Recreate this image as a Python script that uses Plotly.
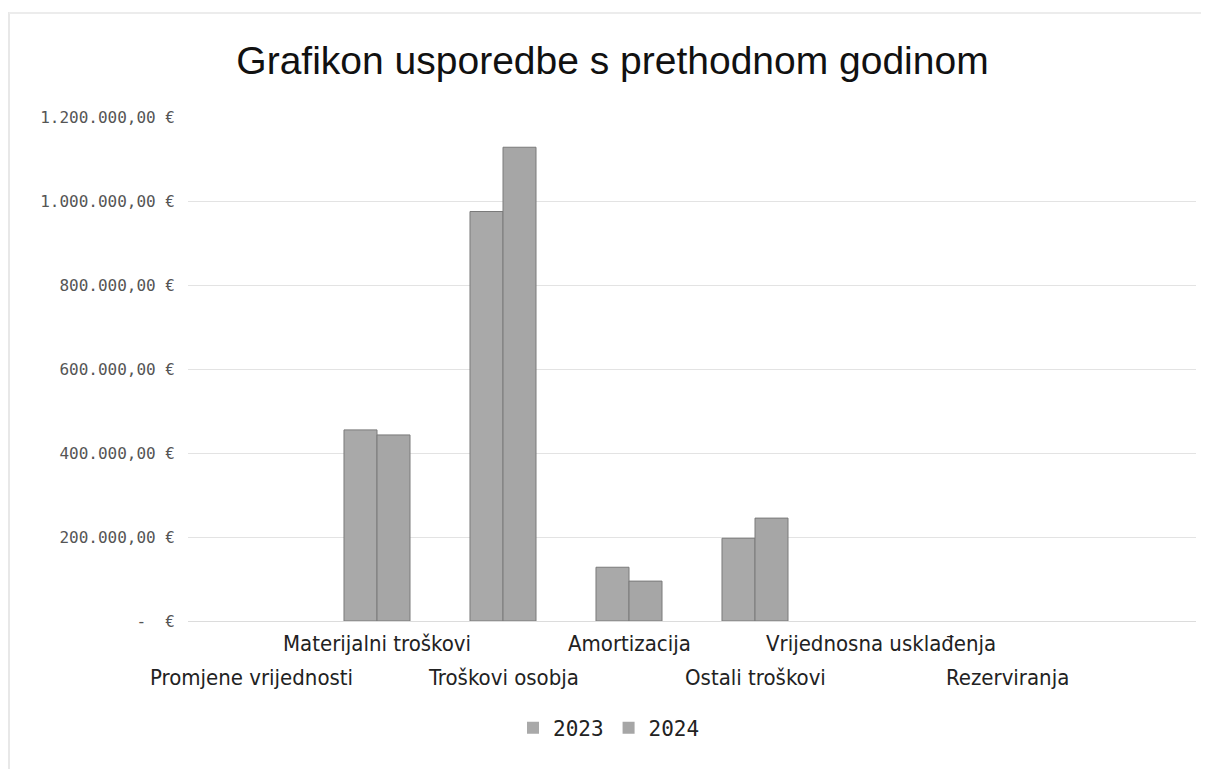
import plotly.graph_objects as go

categories = ["Promjene vrijednosti", "Materijalni troškovi", "Troškovi osobja",
              "Amortizacija", "Ostali troškovi", "Vrijednosna usklađenja",
              "Rezerviranja", ""]
values_2023 = [0, 455000, 975000, 128000, 197000, 0, 0, 0]
values_2024 = [0, 443000, 1128000, 95000, 245000, 0, 0, 0]
series_names = ["2023", "2024"]
y_tickvals = [0, 200000, 400000, 600000, 800000, 1000000, 1200000]
y_ticktext = ["-  €", "200.000,00 €", "400.000,00 €", "600.000,00 €",
              "800.000,00 €", "1.000.000,00 €", "1.200.000,00 €"]

L, R, T, B = 180, 21, 109, 156
W, H = 1209, 769
plot_h = H - T - B
plot_w = W - L - R

positions = list(range(len(categories)))

fig = go.Figure()
for name, vals, col in [(series_names[0], values_2023, "#a9a9a9"),
                        (series_names[1], values_2024, "#a6a6a6")]:
    fig.add_trace(go.Bar(
        x=positions, y=vals, name=name,
        marker=dict(color=col,
                    line=dict(color="#7a7a7a", width=[0 if v == 0 else 1 for v in vals])),
    ))

# staggered category labels: odd ones upper row, even ones lower row
for i, c in enumerate(categories):
    if not c:
        continue
    fig.add_annotation(
        x=i, xref="x", y=0, yref="paper", yanchor="middle", xanchor="center",
        yshift=-22 if i % 2 == 1 else -56, text=c, showarrow=False,
        font=dict(family="DejaVu Sans Condensed, Liberation Sans Narrow, sans-serif",
                  size=22, color="#222222"),
    )

# faint frame of the scanned chart (left and top edges)
fig.add_shape(type="line", xref="paper", yref="paper",
              x0=(1 - L) / plot_w, x1=(1 - L) / plot_w,
              y0=-(H - 4 - (H - B)) / plot_h, y1=1 + (T - 4) / plot_h,
              line=dict(color="#e8e8e8", width=2))
fig.add_shape(type="line", xref="paper", yref="paper",
              x0=(1 - L) / plot_w, x1=(W - L) / plot_w,
              y0=1 + (T - 5) / plot_h, y1=1 + (T - 5) / plot_h,
              line=dict(color="#ececec", width=2))

fig.update_layout(
    width=W, height=H,
    paper_bgcolor="white", plot_bgcolor="white",
    margin=dict(l=L, r=R, t=T, b=B),
    barmode="group", bargap=0.476, bargroupgap=0,
    title=dict(text="Grafikon usporedbe s prethodnom godinom",
               x=0.5, xanchor="center", y=1 - 52 / H, yanchor="middle",
               font=dict(family="Liberation Sans", size=39, color="#111111")),
    legend=dict(orientation="h", x=(601 - L) / plot_w, xanchor="center",
                y=-(720 - (H - B)) / plot_h, yanchor="middle",
                font=dict(family="DejaVu Sans Mono", size=21, color="#222222")),
    showlegend=True,
)
fig.update_xaxes(range=[-0.5, len(categories) - 0.5], showticklabels=False,
                 showgrid=False, showline=False, ticks="", zeroline=False)
fig.update_yaxes(
    range=[0, 1200000], tickmode="array", tickvals=y_tickvals, ticktext=y_ticktext,
    tickfont=dict(family="DejaVu Sans Mono", size=16, color="#555555"),
    showgrid=True, gridcolor="#e3e3e3", gridwidth=1,
    zeroline=True, zerolinecolor="#dcdcdc", zerolinewidth=1,
    ticks="", ticklabelstandoff=12,
)

fig.write_html("out.html")
